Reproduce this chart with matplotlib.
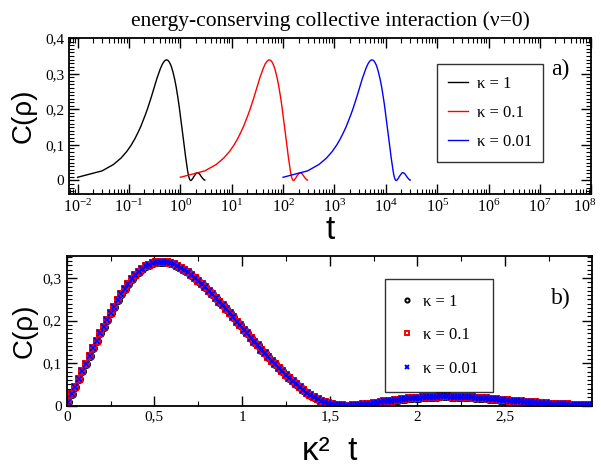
import numpy as np
import matplotlib
matplotlib.use("Agg")
import matplotlib.pyplot as plt
import matplotlib.transforms as mtrans
from matplotlib.ticker import MultipleLocator, FuncFormatter, LogLocator, FixedLocator

plt.rcParams['font.family'] = ['Liberation Serif', 'DejaVu Serif']
plt.rcParams['mathtext.fontset'] = 'stix'

# scaled time kappa^2 t and correlation C(rho), read off panel b)
k2t = np.arange(0.01, 3.0, 0.02)
C = [0.009, 0.027, 0.045, 0.063, 0.081, 0.099, 0.117, 0.135, 0.152, 0.170,
     0.186, 0.202, 0.218, 0.233, 0.248, 0.262, 0.275, 0.287, 0.297, 0.307,
     0.315, 0.322, 0.328, 0.332, 0.336, 0.338, 0.339, 0.339, 0.338, 0.336,
     0.333, 0.329, 0.325, 0.320, 0.314, 0.308, 0.301, 0.294, 0.287, 0.279,
     0.271, 0.263, 0.254, 0.245, 0.236, 0.227, 0.218, 0.208, 0.198, 0.189,
     0.179, 0.170, 0.160, 0.151, 0.142, 0.132, 0.123, 0.114, 0.106, 0.097,
     0.089, 0.081, 0.073, 0.065, 0.058, 0.050, 0.044, 0.037, 0.031, 0.026,
     0.021, 0.016, 0.012, 0.009, 0.006, 0.004, 0.002, 0.001, 0.0005, 0.000,
     0.000, 0.0005, 0.001, 0.002, 0.003, 0.004, 0.005, 0.006, 0.007, 0.008,
     0.010, 0.011, 0.012, 0.013, 0.014, 0.015, 0.016, 0.017, 0.018, 0.019,
     0.019, 0.020, 0.0205, 0.021, 0.0215, 0.0215, 0.022, 0.022, 0.022, 0.0215,
     0.0215, 0.021, 0.021, 0.0205, 0.020, 0.0195, 0.019, 0.0185, 0.018, 0.017,
     0.0165, 0.016, 0.015, 0.014, 0.0135, 0.0125, 0.012, 0.011, 0.0105, 0.010,
     0.009, 0.0085, 0.008, 0.0075, 0.007, 0.006, 0.0055, 0.005, 0.0045, 0.004,
     0.0035, 0.003, 0.003, 0.0025, 0.002, 0.002, 0.0015, 0.0015, 0.001, 0.001]
C = np.array(C)

kappas = [1, 0.1, 0.01]
labels = ["κ = 1", "κ = 0.1", "κ = 0.01"]
colors = ["black", "red", "blue"]
markers = ["o", "s", "x"]
decades = [1e-2, 1e-1, 1e0, 1e1, 1e2, 1e3, 1e4, 1e5, 1e6, 1e7, 1e8]


def comma(v, pos):
    if abs(v) < 1e-9:
        return "0"
    return ("%g" % round(v, 3)).replace(".", ",")


def style(ax):
    ax.tick_params(which='both', direction='in', top=True, right=True, labelsize=11)
    ax.tick_params(which='major', length=7, width=1)
    ax.tick_params(which='minor', length=3.5, width=0.8)
    for s in ax.spines.values():
        s.set_linewidth(1.3)


fig = plt.figure(figsize=(6.01, 4.69), dpi=100)

# panel a)
ax1 = fig.add_axes([0.1148, 0.5864, 0.869, 0.332])
for k, lab, col in zip(kappas, labels, colors):
    ax1.plot(k2t / k**2, C, color=col, lw=1.0, label=lab)
ax1.set_xscale('log')
ax1.set_xlim(0.0068, 1e8)
ax1.set_ylim(-0.038, 0.4)
ax1.xaxis.set_major_locator(FixedLocator(decades))
ax1.xaxis.set_minor_locator(LogLocator(base=10, subs=np.arange(2, 10), numticks=200))
ax1.yaxis.set_major_locator(MultipleLocator(0.1))
ax1.yaxis.set_minor_locator(MultipleLocator(0.01))
ax1.yaxis.set_major_formatter(FuncFormatter(comma))
style(ax1)
ax1.tick_params(axis='x', labelsize=11.5)
ax1.set_xlabel("t", family='Liberation Sans', fontsize=24, labelpad=-1)
ax1.set_ylabel("C(ρ)", family='Liberation Sans', fontsize=20, labelpad=6)
ax1.set_title("energy-conserving collective interaction (ν=0)", fontsize=15.5, pad=9)
ax1.text(0.94, 0.80, "a)", transform=ax1.transAxes, fontsize=17, ha='center', va='center')
leg1 = ax1.legend(loc='upper left', bbox_to_anchor=(0.704, 0.835), fontsize=12,
                  frameon=True, fancybox=False, edgecolor='black', handlelength=1.2,
                  borderpad=0.7, labelspacing=0.8, handletextpad=0.5, borderaxespad=0)
leg1.get_frame().set_linewidth(1.0)

# panel b)
ax2 = fig.add_axes([0.111, 0.135, 0.874, 0.319])
for k, lab, col, m in zip(kappas, labels, colors, markers):
    ax2.plot(k2t, C, ls='none', marker=m, ms=5, mfc='none', mec=col, mew=1.4,
             color=col, label=lab)
ax2.set_xlim(0, 2.995)
ax2.set_ylim(0, 0.352)
ax2.xaxis.set_major_locator(MultipleLocator(0.5))
ax2.xaxis.set_minor_locator(MultipleLocator(0.25))
ax2.yaxis.set_major_locator(MultipleLocator(0.1))
ax2.yaxis.set_minor_locator(MultipleLocator(0.01))
ax2.xaxis.set_major_formatter(FuncFormatter(comma))
ax2.yaxis.set_major_formatter(FuncFormatter(comma))
style(ax2)
ax2.set_xlabel("κ²  t", family='Liberation Sans', fontsize=24, labelpad=9)
ax2.set_ylabel("C(ρ)", family='Liberation Sans', fontsize=20, labelpad=4)
ax2.text(0.94, 0.72, "b)", transform=ax2.transAxes, fontsize=17, ha='center', va='center')
leg2 = ax2.legend(loc='upper left', bbox_to_anchor=(0.606, 0.85), fontsize=12, numpoints=1,
                  frameon=True, fancybox=False, edgecolor='black', handlelength=0.8,
                  borderpad=0.9, labelspacing=1.05, handletextpad=0.6, borderaxespad=0,
                  markerscale=0.6)
leg2.get_frame().set_linewidth(1.0)

# nudge the last decade label (10^8) so it stays inside the picture
fig.canvas.draw()
last = ax1.xaxis.get_major_ticks()[-1].label1
last.set_transform(last.get_transform() + mtrans.ScaledTranslation(-5 / 72, 0, fig.dpi_scale_trans))

fig.savefig("out.png", dpi=100)
